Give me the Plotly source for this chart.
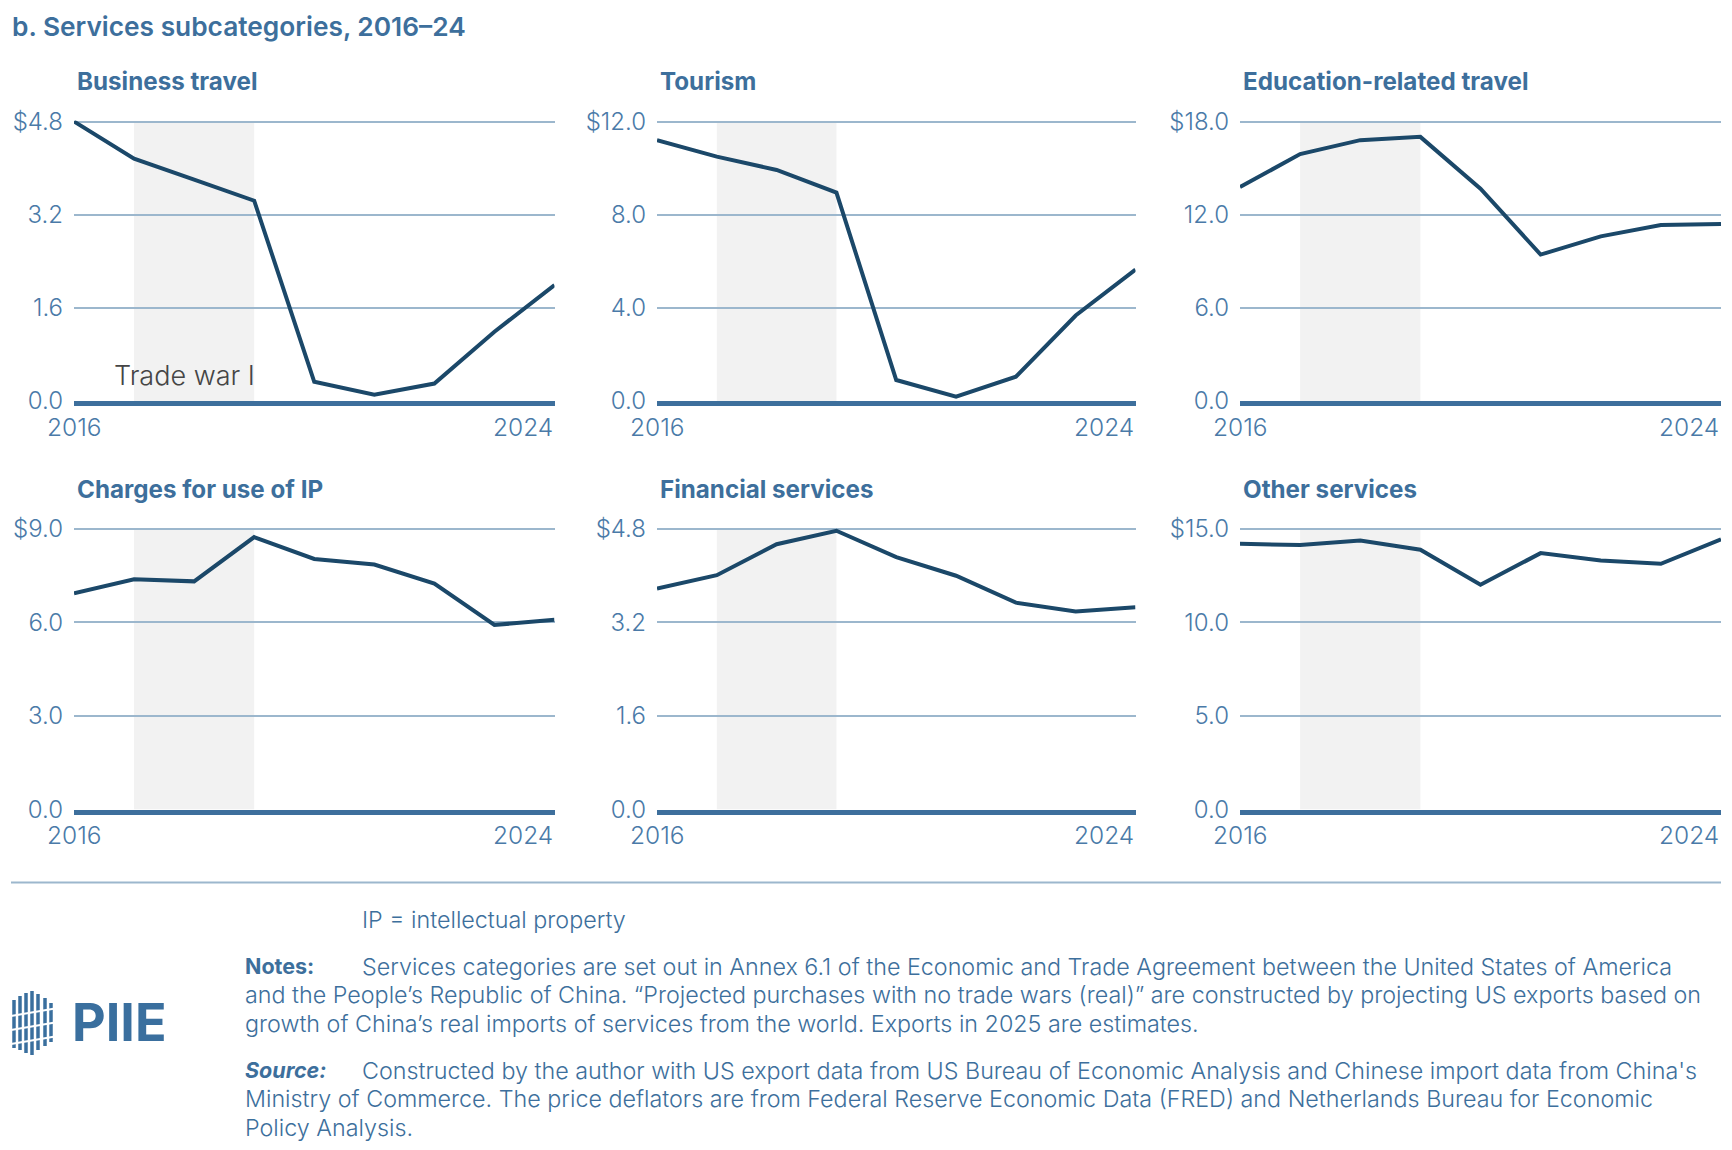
import plotly.graph_objects as go

W, H = 1732, 1150
OX, OY = 8, 8  # page margin of the browser around the figure

years = [2016, 2017, 2018, 2019, 2020, 2021, 2022, 2023, 2024]

panel_titles = ["Business travel", "Tourism", "Education-related travel",
                "Charges for use of IP", "Financial services", "Other services"]

business_travel = [4.80, 4.16, 3.80, 3.44, 0.33, 0.11, 0.30, 1.19, 1.99]
tourism = [11.20, 10.49, 9.92, 8.95, 0.90, 0.19, 1.04, 3.67, 5.64]
education_travel = [13.78, 15.90, 16.80, 17.01, 13.67, 9.43, 10.60, 11.33, 11.40]
ip_charges = [6.94, 7.39, 7.32, 8.74, 8.04, 7.86, 7.25, 5.92, 6.09]
financial_services = [3.78, 4.01, 4.54, 4.77, 4.32, 4.00, 3.54, 3.39, 3.46]
other_services = [14.21, 14.14, 14.38, 13.89, 12.02, 13.71, 13.32, 13.14, 14.45]

series = [business_travel, tourism, education_travel,
          ip_charges, financial_services, other_services]

y_ticks = [
    [0.0, 1.6, 3.2, 4.8],
    [0.0, 4.0, 8.0, 12.0],
    [0.0, 6.0, 12.0, 18.0],
    [0.0, 3.0, 6.0, 9.0],
    [0.0, 1.6, 3.2, 4.8],
    [0.0, 5.0, 10.0, 15.0],
]
y_ticktext = [
    ["0.0", "1.6", "3.2", "$4.8"],
    ["0.0", "4.0", "8.0", "$12.0"],
    ["0.0", "6.0", "12.0", "$18.0"],
    ["0.0", "3.0", "6.0", "$9.0"],
    ["0.0", "1.6", "3.2", "$4.8"],
    ["0.0", "5.0", "10.0", "$15.0"],
]
x_labels = ["2016", "2024"]
trade_war_start, trade_war_end = 2017, 2019

title_text = "b. Services subcategories, 2016–24"
ip_note = "IP = intellectual property"
notes_lines = [
    "Services categories are set out in Annex 6.1 of the Economic and Trade Agreement between the United States of America",
    "and the People’s Republic of China. “Projected purchases with no trade wars (real)” are constructed by projecting US exports based on",
    "growth of China’s real imports of services from the world. Exports in 2025 are estimates.",
]
source_lines = [
    "Constructed by the author with US export data from US Bureau of Economic Analysis and Chinese import data from China's",
    "Ministry of Commerce. The price deflators are from Federal Reserve Economic Data (FRED) and Netherlands Bureau for Economic",
    "Policy Analysis.",
]

FONT = "Inter"
LINE = "#1b4869"
AXIS = "#3d6f9c"
GRID = "#9cb7cd"
TXT = "#3d6f9c"
TICK = "#4a7aa8"
SHADE = "#f2f2f2"


def px_x(v):
    return (v - OX) / W


def px_y(v):
    return 1 - (v - OY) / H


col_px = [(74, 554.5), (657, 1135.5), (1240, 1721)]
row_px = [(121.5, 401), (529, 809.5)]
EPS = 1.004  # keep the top gridline inside the plotting range

fig = go.Figure()
layout = dict(
    width=W, height=H,
    margin=dict(l=0, r=0, t=0, b=0, pad=0, autoexpand=False),
    paper_bgcolor="white", plot_bgcolor="white", showlegend=False,
    font=dict(family=FONT, color=TXT),
)
annotations = []
shapes = []

for i in range(6):
    r, c = divmod(i, 3)
    n = i + 1
    xa = "x" if n == 1 else f"x{n}"
    ya = "y" if n == 1 else f"y{n}"
    xkey = "xaxis" if n == 1 else f"xaxis{n}"
    ykey = "yaxis" if n == 1 else f"yaxis{n}"
    ymax = y_ticks[i][-1]
    top = row_px[r][0] - (row_px[r][1] - row_px[r][0]) * (EPS - 1)
    layout[xkey] = dict(
        domain=[px_x(col_px[c][0]), px_x(col_px[c][1])],
        range=[years[0], years[-1]], anchor=ya, automargin=False,
        showgrid=False, zeroline=False, showticklabels=False, ticks="",
        showline=True, linecolor=AXIS, linewidth=4.5,
    )
    layout[ykey] = dict(
        domain=[px_y(row_px[r][1]), px_y(top)],
        range=[0, ymax * EPS], anchor=xa, automargin=False,
        tickvals=y_ticks[i], ticktext=y_ticktext[i],
        showgrid=True, gridcolor=GRID, gridwidth=1.6,
        zeroline=False, showline=False, ticks="",
        tickfont=dict(family=FONT, size=24, color=TICK, weight=300),
        ticklabelstandoff=10,
    )
    shapes.append(dict(
        type="rect", xref=xa, yref=ya,
        x0=trade_war_start, x1=trade_war_end, y0=0, y1=ymax,
        fillcolor=SHADE, line=dict(width=0), layer="below",
    ))
    fig.add_trace(go.Scatter(
        x=years, y=series[i], mode="lines",
        line=dict(color=LINE, width=4), cliponaxis=False,
        xaxis=xa, yaxis=ya, hoverinfo="skip",
    ))
    # panel title
    annotations.append(dict(
        text=f"<b>{panel_titles[i]}</b>", xref="paper", yref="paper",
        x=px_x(col_px[c][0] + 1), y=px_y(row_px[r][0] - 40),
        xanchor="left", yanchor="middle", showarrow=False,
        font=dict(family=FONT, size=24.2, color=TXT),
    ))
    # x labels
    annotations.append(dict(
        text=x_labels[0], xref=xa, yref=ya, x=years[0], y=0,
        xanchor="center", yanchor="middle", yshift=-26, showarrow=False,
        font=dict(family=FONT, size=24.5, color=TICK, weight=300),
    ))
    annotations.append(dict(
        text=x_labels[1], xref=xa, yref=ya, x=years[-1], y=0,
        xanchor="right", yanchor="middle", yshift=-26, showarrow=False,
        font=dict(family=FONT, size=24.5, color=TICK, weight=300),
    ))

annotations.append(dict(
    text="Trade war I", xref="x", yref="y", x=trade_war_end, y=0,
    xanchor="right", yanchor="middle", yshift=26, xshift=3, showarrow=False,
    font=dict(family=FONT, size=27, color="#454545", weight=300),
))

# main title
annotations.append(dict(
    text=title_text, xref="paper", yref="paper",
    x=px_x(10), y=px_y(27), xanchor="left", yanchor="middle", showarrow=False,
    font=dict(family=FONT, size=26.3, color=TXT, weight=600),
))

# separator line
shapes.append(dict(type="line", xref="paper", yref="paper",
                   x0=px_x(11), x1=px_x(1721), y0=px_y(882.5), y1=px_y(882.5),
                   line=dict(color=GRID, width=2)))

# footer texts
foot_font = dict(family=FONT, size=23.3, color=TXT, weight=300)
foot_bold = dict(family=FONT, size=21.5, color=TXT, weight=700)
annotations.append(dict(text=ip_note, xref="paper", yref="paper",
                        x=px_x(360), y=px_y(919), xanchor="left", yanchor="middle",
                        showarrow=False, font=foot_font))
annotations.append(dict(text="Notes:", xref="paper", yref="paper",
                        x=px_x(243), y=px_y(966), xanchor="left", yanchor="middle",
                        showarrow=False, font=foot_bold))
note_y = [966, 994.5, 1023]
for k, line in enumerate(notes_lines):
    annotations.append(dict(text=line, xref="paper", yref="paper",
                            x=px_x(360 if k == 0 else 243), y=px_y(note_y[k]),
                            xanchor="left", yanchor="middle",
                            showarrow=False, font=foot_font))
annotations.append(dict(text="<i>Source:</i>", xref="paper", yref="paper",
                        x=px_x(243), y=px_y(1070), xanchor="left", yanchor="middle",
                        showarrow=False, font=foot_bold))
src_y = [1070, 1098.5, 1127]
for k, line in enumerate(source_lines):
    annotations.append(dict(text=line, xref="paper", yref="paper",
                            x=px_x(360 if k == 0 else 243), y=px_y(src_y[k]),
                            xanchor="left", yanchor="middle",
                            showarrow=False, font=foot_font))

# PIIE logo
LOGO = "#3a6f9e"
annotations.append(dict(text="<b>PIIE</b>", xref="paper", yref="paper",
                        x=px_x(70), y=px_y(1022), xanchor="left", yanchor="middle",
                        showarrow=False, font=dict(family=FONT, size=52, color=LOGO, weight=800)))
for xv, (yt, yb) in zip([14, 20, 26, 32, 38, 45, 51],
                        [(1000, 1048), (996, 1050), (993, 1053), (991, 1055),
                         (994, 1050), (998, 1046), (1003, 1042)]):
    shapes.append(dict(type="line", xref="paper", yref="paper",
                       x0=px_x(xv), x1=px_x(xv), y0=px_y(yt), y1=px_y(yb),
                       line=dict(color=LOGO, width=3.5)))
for yv in [1012, 1026, 1040]:
    shapes.append(dict(type="line", xref="paper", yref="paper",
                       x0=px_x(11), x1=px_x(58), y0=px_y(yv + 4), y1=px_y(yv - 4),
                       line=dict(color="white", width=2)))

layout["annotations"] = annotations
layout["shapes"] = shapes
fig.update_layout(**layout)
fig.write_html("out.html")
